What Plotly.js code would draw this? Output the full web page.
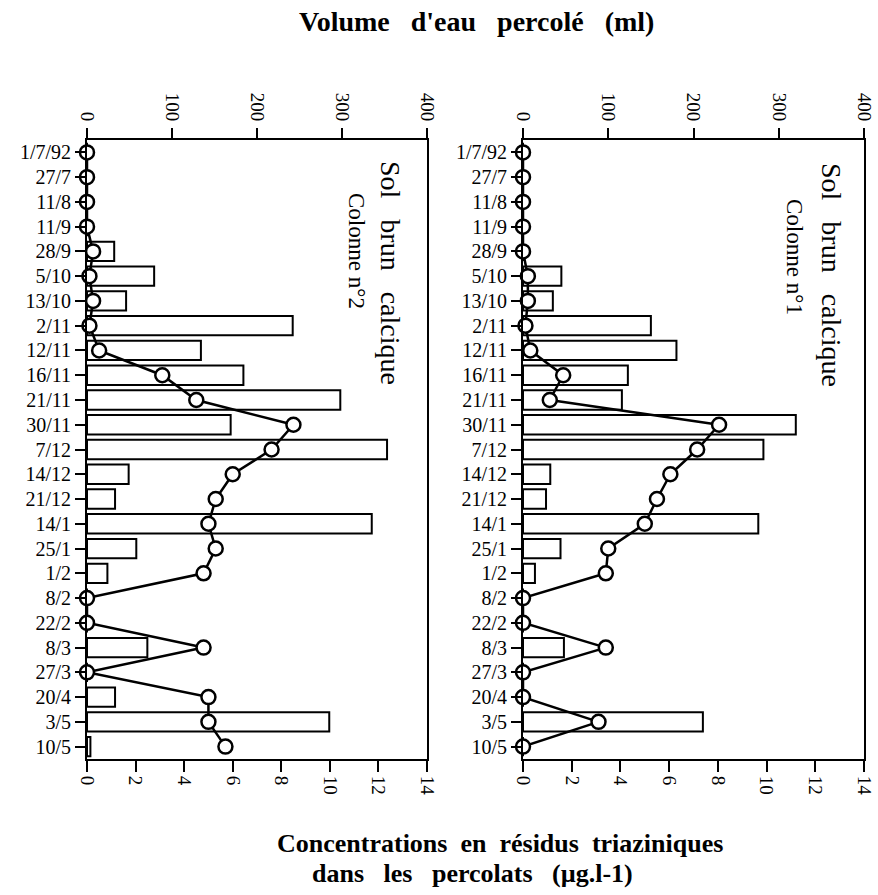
<!DOCTYPE html>
<html>
<head>
<meta charset="utf-8">
<script src="https://cdn.plot.ly/plotly-3.0.1.min.js"></script>
<style>html,body{margin:0;padding:0;background:#fff;}#chart{width:878px;height:895px;}</style>
</head>
<body>
<div id="chart"></div>
<script>
// Sampling dates (category axis, top to bottom)
const dates = ["1/7/92","27/7","11/8","11/9","28/9","5/10","13/10","2/11","12/11","16/11","21/11","30/11","7/12","14/12","21/12","14/1","25/1","1/2","8/2","22/2","8/3","27/3","20/4","3/5","10/5"];

// Colonne n°2 (left panel)
const volumeCol2 = [0,0,0,0,32,79,46,242,134,184,298,169,353,49,33,335,58,24,0,0,71,0,33,285,4];
const concCol2   = [0,0,0,0,0.25,0.1,0.25,0.1,0.5,3.1,4.5,8.5,7.6,6.0,5.3,5.0,5.3,4.8,0,0,4.8,0,5.0,5.0,5.7];

// Colonne n°1 (right panel)
const volumeCol1 = [0,0,0,0,0,45,35,150,180,123,116,320,282,32,27,276,44,14,0,0,48,0,0,211,0];
const concCol1   = [0,0,0,0,0,0.2,0.2,0.1,0.3,1.65,1.1,8.05,7.15,6.05,5.5,5.0,3.5,3.4,0,0,3.4,0,0,3.1,0];

const volumeTicks = [0,100,200,300,400];
const concTicks = [0,2,4,6,8,10,12,14];

const FONT = "Liberation Serif, Times New Roman, serif";
const W = 878, H = 895;
const px = v => v / W;
const py = v => 1 - v / H;

function barTrace(x, xa, ya) {
  return {type:'bar', orientation:'h', x:x, y:dates, xaxis:xa, yaxis:ya, width:0.78,
    marker:{color:'#ffffff', line:{color:'#000', width:2}}, hoverinfo:'x+y', showlegend:false};
}
function lineTrace(x, xa, ya) {
  return {type:'scatter', mode:'lines+markers', x:x, y:dates, xaxis:xa, yaxis:ya,
    line:{color:'#000', width:2.5},
    marker:{symbol:'circle', size:14, color:'#ffffff', line:{color:'#000', width:2.5}},
    cliponaxis:false, showlegend:false};
}

const data = [
  barTrace(volumeCol2, 'x', 'y'),
  lineTrace(concCol2, 'x2', 'y'),
  barTrace(volumeCol1, 'x3', 'y2'),
  lineTrace(concCol1, 'x4', 'y2')
];

function volAxis(domain, anchor) {
  return {domain:domain, anchor:anchor, side:'top', range:[0,400], tickmode:'array', tickvals:volumeTicks,
    ticktext:volumeTicks.map(String), ticks:'outside', ticklen:10, tickwidth:2, tickcolor:'#000',
    tickangle:90, showline:true, linewidth:2, linecolor:'#000', showgrid:false, zeroline:false,
    tickfont:{family:FONT, size:19, color:'#000'}, fixedrange:true};
}
function concAxis(domain, anchor, over) {
  return {domain:domain, anchor:anchor, overlaying:over, side:'bottom', range:[0,14], tickmode:'array', tickvals:concTicks,
    ticktext:concTicks.map(String), ticks:'outside', ticklen:11, tickwidth:2, tickcolor:'#000',
    tickangle:90, showline:true, linewidth:2, linecolor:'#000', showgrid:false, zeroline:false,
    tickfont:{family:FONT, size:19, color:'#000'}, fixedrange:true};
}
function catAxis(anchor) {
  return {domain:[py(759), py(140)], anchor:anchor, type:'category', categoryarray:dates,
    categoryorder:'array', range:[24.5,-0.5], tickmode:'array', tickvals:dates, ticktext:dates,
    ticks:'outside', ticklen:10, tickwidth:2, tickcolor:'#000',
    showline:true, mirror:true, linewidth:2, linecolor:'#000', showgrid:false, zeroline:false,
    tickfont:{family:FONT, size:20, color:'#000'}, fixedrange:true};
}

const leftDom = [px(87), px(427)];
const rightDom = [px(523), px(864)];

const sp = '\u00a0\u00a0 ';
const sp2 = '\u00a0 ';

const layout = {
  width:W, height:H, margin:{l:0,r:0,t:0,b:0},
  paper_bgcolor:'#fff', plot_bgcolor:'rgba(0,0,0,0)',
  font:{family:FONT, color:'#000'},
  showlegend:false, bargap:0.2,
  xaxis: volAxis(leftDom, 'y'),
  xaxis2: concAxis(leftDom, 'y', 'x'),
  xaxis3: volAxis(rightDom, 'y2'),
  xaxis4: concAxis(rightDom, 'y2', 'x3'),
  yaxis: catAxis('x'),
  yaxis2: catAxis('x3'),
  annotations: [
    {text:'<b>Volume' + sp + 'd\'eau' + sp + 'percolé' + sp + '(ml)</b>', xref:'paper', yref:'paper',
     x:px(476), y:py(22), xanchor:'center', yanchor:'middle', showarrow:false,
     font:{family:FONT, size:28, color:'#000'}},
    {text:'<b>Concentrations' + sp2 + 'en' + sp2 + 'résidus' + sp2 + 'triaziniques</b>', xref:'paper', yref:'paper',
     x:px(500), y:py(843), xanchor:'center', yanchor:'middle', showarrow:false,
     font:{family:FONT, size:26, color:'#000'}},
    {text:'<b>dans' + sp + 'les' + sp + 'percolats' + sp + '(µg.l-1)</b>', xref:'paper', yref:'paper',
     x:px(472), y:py(873), xanchor:'center', yanchor:'middle', showarrow:false,
     font:{family:FONT, size:26, color:'#000'}},
    {text:'Sol' + sp + 'brun' + sp + 'calcique', xref:'paper', yref:'paper', textangle:90,
     x:px(390), y:py(273), xanchor:'center', yanchor:'middle', showarrow:false,
     font:{family:FONT, size:28, color:'#000'}},
    {text:'Colonne n°2', xref:'paper', yref:'paper', textangle:90,
     x:px(356), y:py(251), xanchor:'center', yanchor:'middle', showarrow:false,
     font:{family:FONT, size:23, color:'#000'}},
    {text:'Sol' + sp + 'brun' + sp + 'calcique', xref:'paper', yref:'paper', textangle:90,
     x:px(832), y:py(275), xanchor:'center', yanchor:'middle', showarrow:false,
     font:{family:FONT, size:28, color:'#000'}},
    {text:'Colonne n°1', xref:'paper', yref:'paper', textangle:90,
     x:px(795), y:py(257), xanchor:'center', yanchor:'middle', showarrow:false,
     font:{family:FONT, size:23, color:'#000'}}
  ]
};

Plotly.newPlot('chart', data, layout, {displayModeBar:false, staticPlot:true});
</script>
</body>
</html>
